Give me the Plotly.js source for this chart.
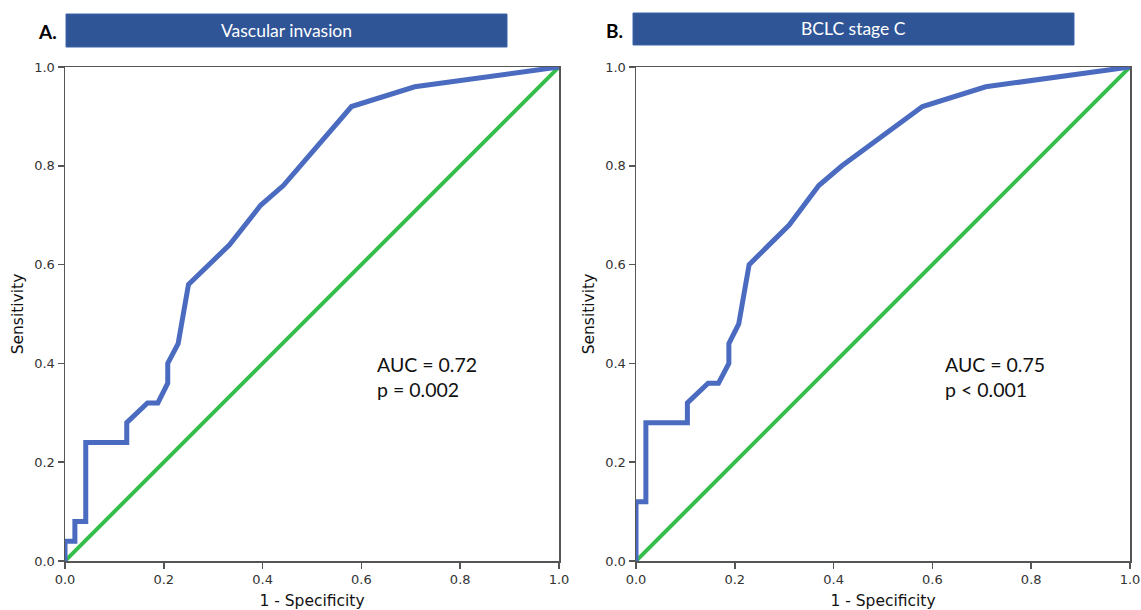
<!DOCTYPE html>
<html>
<head>
<meta charset="utf-8">
<script src="https://cdn.plot.ly/plotly-3.0.1.min.js"></script>
<style>html,body{margin:0;padding:0;background:#fff;}#chart{width:1141px;height:610px;}</style>
</head>
<body>
<div id="chart"></div>
<script>
// ---- data ----
const panelLabels = ["A.", "B."];
const panelTitles = ["Vascular invasion", "BCLC stage C"];
const fprA = [0, 0, 0.02, 0.02, 0.042, 0.042, 0.125, 0.125, 0.167, 0.188, 0.208, 0.208, 0.229, 0.25, 0.333, 0.396, 0.442, 0.58, 0.708, 1];
const tprA = [0, 0.04, 0.04, 0.08, 0.08, 0.24, 0.24, 0.28, 0.32, 0.32, 0.36, 0.40, 0.44, 0.56, 0.64, 0.72, 0.76, 0.92, 0.96, 1];
const fprB = [0, 0, 0.02, 0.02, 0.104, 0.104, 0.146, 0.167, 0.188, 0.188, 0.208, 0.229, 0.31, 0.37, 0.417, 0.58, 0.708, 1];
const tprB = [0, 0.12, 0.12, 0.28, 0.28, 0.32, 0.36, 0.36, 0.40, 0.44, 0.48, 0.60, 0.68, 0.76, 0.80, 0.92, 0.96, 1];
const refX = [0, 1];
const refY = [0, 1];
const aucText = ["AUC = 0.72<br>p = 0.002", "AUC = 0.75<br>p < 0.001"];
const tickVals = [0, 0.2, 0.4, 0.6, 0.8, 1.0];
const tickText = ["0.0", "0.2", "0.4", "0.6", "0.8", "1.0"];

// ---- styles ----
const W = 1141, H = 610;
const px = v => v / W;
const py = v => 1 - v / H;
const blue = "#4a6bbf";
const green = "#35be4b";
const axisCol = "#555555";
const barCol = "#2f5597";

const traces = [
  {x: refX, y: refY, xaxis: "x", yaxis: "y", mode: "lines", line: {color: green, width: 4}, hoverinfo: "skip"},
  {x: fprA, y: tprA, xaxis: "x", yaxis: "y", mode: "lines", line: {color: blue, width: 5}},
  {x: refX, y: refY, xaxis: "x2", yaxis: "y2", mode: "lines", line: {color: green, width: 4}, hoverinfo: "skip"},
  {x: fprB, y: tprB, xaxis: "x2", yaxis: "y2", mode: "lines", line: {color: blue, width: 5}}
];

function xax(domain, anchor) {
  return {
    domain: domain, anchor: anchor, range: [0, 1], fixedrange: true,
    showgrid: false, zeroline: false, showline: true, mirror: true,
    linecolor: axisCol, linewidth: 1.5, ticks: "outside", ticklen: 6, tickwidth: 1.5, tickcolor: axisCol,
    tickvals: tickVals, ticktext: tickText,
    tickfont: {family: "DejaVu Sans", size: 13, color: "#333"},
    title: {text: "1 - Specificity", font: {family: "DejaVu Sans", size: 15.5, color: "#111"}, standoff: 9},
    automargin: false
  };
}
function yax(domain, anchor) {
  return {
    domain: domain, anchor: anchor, range: [0, 1], fixedrange: true,
    showgrid: false, zeroline: false, showline: true, mirror: true,
    linecolor: axisCol, linewidth: 1.5, ticks: "outside", ticklen: 6, tickwidth: 1.5, tickcolor: axisCol,
    tickvals: tickVals, ticktext: tickText,
    tickfont: {family: "DejaVu Sans", size: 13, color: "#333"},
    title: {text: "Sensitivity", font: {family: "DejaVu Sans", size: 15.5, color: "#111"}, standoff: 7},
    automargin: false
  };
}

const yDom = [py(561), py(67)];
const bars = [[66, 507, 14, 47], [633, 1074, 13, 45]];
const labelX = [47, 614];
const aucPos = [[375, 377], [943, 377]];

const shapes = bars.map(b => ({
  type: "rect", xref: "paper", yref: "paper",
  x0: px(b[0]), x1: px(b[1]), y0: py(b[3]), y1: py(b[2]),
  fillcolor: barCol, line: {color: "#3b64a8", width: 1}, layer: "above"
}));

const annotations = [];
for (let i = 0; i < 2; i++) {
  const b = bars[i];
  annotations.push({
    xref: "paper", yref: "paper", x: px((b[0] + b[1]) / 2), y: py((b[2] + b[3]) / 2),
    text: panelTitles[i], showarrow: false, xanchor: "center", yanchor: "middle",
    font: {family: "Lato", size: 17.5, color: "#ffffff"}
  });
  annotations.push({
    xref: "paper", yref: "paper", x: px(labelX[i]), y: py((b[2] + b[3]) / 2 + 1),
    text: "<b>" + panelLabels[i] + "</b>", showarrow: false, xanchor: "center", yanchor: "middle",
    font: {family: "Lato", size: 19, color: "#000"}
  });
  annotations.push({
    xref: "paper", yref: "paper", x: px(aucPos[i][0]), y: py(aucPos[i][1]),
    text: aucText[i], showarrow: false, xanchor: "left", yanchor: "middle", align: "left",
    font: {family: "Lato", size: 19.5, color: "#111"}
  });
}

const layout = {
  width: W, height: H,
  margin: {l: 0, r: 0, t: 0, b: 0},
  paper_bgcolor: "#fff", plot_bgcolor: "#fff",
  showlegend: false,
  xaxis: xax([px(65), px(559)], "y"),
  yaxis: yax(yDom, "x"),
  xaxis2: xax([px(636), px(1130)], "y2"),
  yaxis2: yax(yDom, "x2"),
  shapes: shapes,
  annotations: annotations
};

Plotly.newPlot("chart", traces, layout, {staticPlot: true, displayModeBar: false});
</script>
</body>
</html>
